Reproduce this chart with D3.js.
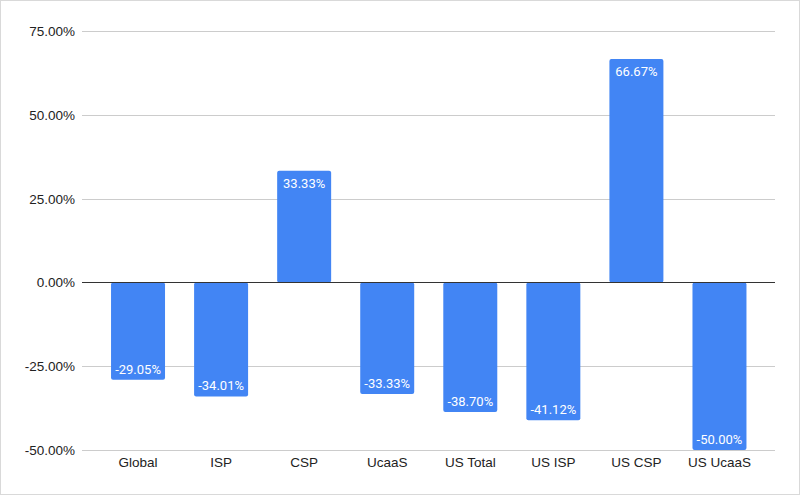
<!doctype html>
<html>
  <head>
    <meta charset="utf-8">
    <title>Bar chart</title>
    <script src="https://cdnjs.cloudflare.com/ajax/libs/d3/7.8.5/d3.min.js"></script>
    <style>
      body { margin: 0; background: #fff; }
      svg { display: block; }
    </style>
  </head>
  <body>
    <div id="chart"></div>
    <script>
      // data
      const categories = ['Global', 'ISP', 'CSP', 'UcaaS', 'US Total', 'US ISP', 'US CSP', 'US UcaaS'];
      const values = [-29.05, -34.01, 33.33, -33.33, -38.70, -41.12, 66.67, -50.00];
      const yTicks = [-50, -25, 0, 25, 50, 75];

      const width = 800, height = 495;

      // plain hyphen instead of d3's unicode minus
      const pct = d3.formatLocale({ decimal: '.', thousands: ',', grouping: [3], currency: ['', ''], minus: '-' })
        .format('.2f');
      const fmt = d => pct(d) + '%';

      const svg = d3.select('#chart')
        .append('svg')
        .attr('width', width)
        .attr('height', height);

      // light frame round the picture
      svg.append('rect')
        .attr('x', 0.5).attr('y', 0.5)
        .attr('width', width - 1).attr('height', height - 1)
        .attr('fill', '#fff')
        .attr('stroke', '#d9d9d9');

      const gridLeft = 82, gridRight = 775;

      const x = d3.scaleBand()
        .domain(categories)
        .range([96.5, 761])
        .paddingInner(0.35)
        .paddingOuter(0.175);

      const y = d3.scaleLinear()
        .domain([-50, 75])
        .range([450, 31]);

      // gridlines
      svg.append('g')
        .selectAll('line')
        .data(yTicks.filter(d => d !== 0))
        .join('line')
        .attr('x1', gridLeft)
        .attr('x2', gridRight)
        .attr('y1', d => Math.round(y(d)) + 0.5)
        .attr('y2', d => Math.round(y(d)) + 0.5)
        .attr('stroke', '#cccccc');

      // y tick labels
      svg.append('g')
        .selectAll('text')
        .data(yTicks)
        .join('text')
        .attr('x', 75)
        .attr('y', d => y(d) + 5)
        .attr('text-anchor', 'end')
        .attr('font-family', 'Liberation Sans, Arial, sans-serif')
        .attr('font-size', 13.5)
        .attr('fill', '#222')
        .text(fmt);

      // bars
      const data = categories.map((c, i) => ({ cat: c, val: values[i] }));

      svg.append('g')
        .selectAll('rect')
        .data(data)
        .join('rect')
        .attr('x', d => x(d.cat))
        .attr('width', x.bandwidth())
        .attr('y', d => Math.min(y(d.val), y(0)))
        .attr('height', d => Math.abs(y(d.val) - y(0)))
        .attr('rx', 2)
        .attr('fill', '#4285f4');

      // zero line
      svg.append('line')
        .attr('x1', gridLeft)
        .attr('x2', gridRight)
        .attr('y1', Math.round(y(0)) + 0.5)
        .attr('y2', Math.round(y(0)) + 0.5)
        .attr('stroke', '#333333');

      // value labels inside the bar ends
      svg.append('g')
        .selectAll('text')
        .data(data)
        .join('text')
        .attr('x', d => x(d.cat) + x.bandwidth() / 2)
        .attr('y', d => d.val >= 0 ? y(d.val) + 17 : y(d.val) - 6)
        .attr('text-anchor', 'middle')
        .attr('font-family', 'Roboto, Arial, sans-serif')
        .attr('font-size', 13)
        .attr('fill', '#fff')
        .text(d => fmt(d.val));

      // category labels
      svg.append('g')
        .selectAll('text')
        .data(categories)
        .join('text')
        .attr('x', d => x(d) + x.bandwidth() / 2)
        .attr('y', 467)
        .attr('text-anchor', 'middle')
        .attr('font-family', 'Liberation Sans, Arial, sans-serif')
        .attr('font-size', 13.5)
        .attr('fill', '#222')
        .text(d => d);
    </script>
  </body>
</html>
